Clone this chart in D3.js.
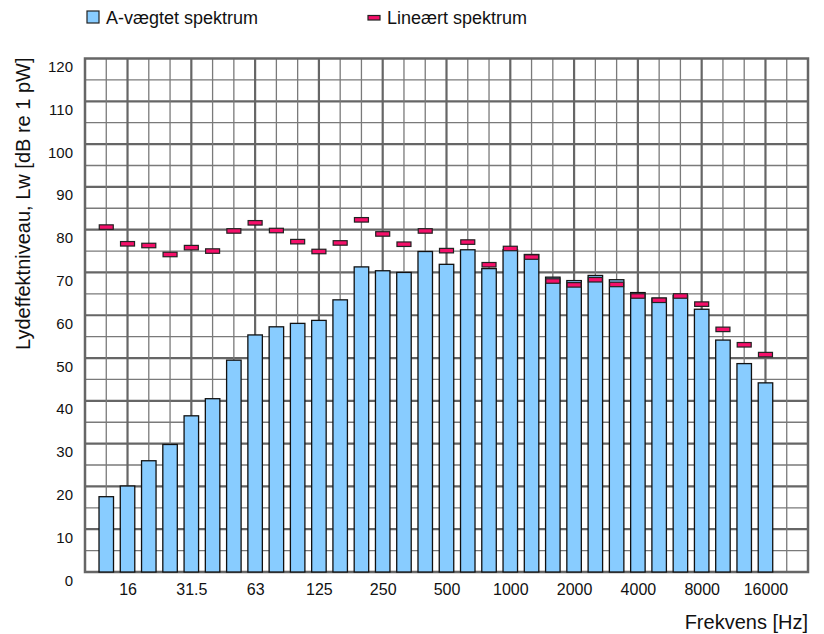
<!DOCTYPE html>
<html>
<head>
<meta charset="utf-8">
<script src="https://cdn.jsdelivr.net/npm/d3@7"></script>
<style>
  body { margin: 0; background: #fff; }
  svg { font-family: "Liberation Sans", Arial, sans-serif; }
</style>
</head>
<body>
<script>
// 1/3-octave band centre frequencies
var freqs = ["12.5","16","20","25","31.5","40","50","63","80","100","125","160","200","250","315","400",
             "500","630","800","1000","1250","1600","2000","2500","3150","4000","5000","6300","8000","10000","12500","16000"];

// A-weighted spectrum (bars), dB
var aWeighted = [17.6, 20.1, 26.0, 29.8, 36.5, 40.5, 49.5, 55.4, 57.3, 58.1, 58.8, 63.6, 71.3, 70.4, 70.0, 74.9,
                 71.9, 75.3, 70.9, 75.3, 74.2, 68.9, 68.1, 69.3, 68.3, 65.3, 64.0, 64.6, 61.4, 54.2, 48.7, 44.2];

// linear spectrum (markers), dB
var linear = [80.6, 76.7, 76.3, 74.2, 75.8, 75.0, 79.7, 81.6, 79.8, 77.2, 74.9, 76.9, 82.3, 79.0, 76.6, 79.7,
              75.1, 77.1, 71.8, 75.6, 73.6, 68.0, 67.1, 68.3, 67.2, 64.5, 63.5, 64.5, 62.6, 56.7, 53.1, 50.8];

var yTicks = [0,10,20,30,40,50,60,70,80,90,100,110,120];
var xLabels = ["16","31.5","63","125","250","500","1000","2000","4000","8000","16000"];

var W = 824, H = 634;
var plotL = 85, plotR = 808, plotT = 58.5, plotB = 572; // note: "top" is taken by window.top

var svg = d3.select("body").append("svg")
	.attr("width", W)
	.attr("height", H);

var x = d3.scaleLinear().domain([0, freqs.length + 2]).range([plotL, plotR]);
var y = d3.scaleLinear().domain([0, 120]).range([plotB, plotT]);

// grid - horizontal, every 5 dB (every 10 is heavier)
var hLines = d3.range(5, 120, 5);
svg.append("g").selectAll("line").data(hLines).enter().append("line")
	.attr("x1", plotL).attr("x2", plotR)
	.attr("y1", function(d){ return y(d); })
	.attr("y2", function(d){ return y(d); })
	.attr("stroke", function(d){ return d % 10 == 0 ? "#666" : "#7a7a7a"; })
	.attr("stroke-width", function(d){ return d % 10 == 0 ? 2.2 : 1.3; });

// grid - vertical, one per band slot, heavier under the labelled bands
var vLines = d3.range(1, freqs.length + 2);
svg.append("g").selectAll("line").data(vLines).enter().append("line")
	.attr("y1", plotT).attr("y2", plotB)
	.attr("x1", function(d){ return x(d); })
	.attr("x2", function(d){ return x(d); })
	.attr("stroke", function(d){ return xLabels.indexOf(freqs[d-1]) >= 0 ? "#666" : "#7a7a7a"; })
	.attr("stroke-width", function(d){ return xLabels.indexOf(freqs[d-1]) >= 0 ? 2.2 : 1.3; });

// plot frame
svg.append("rect")
	.attr("x", plotL).attr("y", plotT)
	.attr("width", plotR - plotL).attr("height", plotB - plotT)
	.attr("fill", "none").attr("stroke", "#666").attr("stroke-width", 2.5);

var barW = 14.5;

svg.append("g").selectAll("rect").data(aWeighted).enter().append("rect")
	.attr("x", function(d, i){ return x(i + 1) - barW / 2; })
	.attr("y", function(d){ return y(d); })
	.attr("width", barW)
	.attr("height", function(d){ return y(0) - y(d); })
	.attr("fill", "#88ccff")
	.attr("stroke", "#111")
	.attr("stroke-width", 1.3);

var mW = 14, mH = 4.5;
svg.append("g").selectAll("rect").data(linear).enter().append("rect")
	.attr("x", function(d, i){ return x(i + 1) - mW / 2; })
	.attr("y", function(d){ return y(d) - mH / 2; })
	.attr("width", mW)
	.attr("height", mH)
	.attr("fill", "#f5106a")
	.attr("stroke", "#222")
	.attr("stroke-width", 1.2);

// y axis labels (sit a little below their grid line, like the original)
var yAxis = svg.append("g")
	.attr("transform", "translate(" + (plotL - 12) + ",0)")
	.call(d3.axisLeft(y).tickValues(yTicks).tickSize(0).tickPadding(0));
yAxis.select(".domain").remove();
yAxis.selectAll("text")
	.attr("dy", "1.0em")
	.attr("y", -2)
	.attr("font-size", 15)
	.attr("font-family", "Liberation Sans, Arial, sans-serif")
	.attr("fill", "#111");

// x axis labels
var xAxis = svg.append("g")
	.attr("transform", "translate(0," + plotB + ")")
	.call(d3.axisBottom(x)
		.tickValues(xLabels.map(function(l){ return freqs.indexOf(l) + 1; }))
		.tickFormat(function(d){ return freqs[d - 1]; })
		.tickSize(0).tickPadding(12));
xAxis.select(".domain").remove();
xAxis.selectAll("text")
	.attr("font-size", 16)
	.attr("font-family", "Liberation Sans, Arial, sans-serif")
	.attr("fill", "#111");

// axis titles
svg.append("text")
	.attr("x", plotR).attr("y", 629)
	.attr("text-anchor", "end")
	.attr("font-size", 20)
	.attr("fill", "#111")
	.text("Frekvens [Hz]");

svg.append("text")
	.attr("transform", "translate(30," + (plotT - 1) + ") rotate(-90)")
	.attr("text-anchor", "end")
	.attr("font-size", 20)
	.attr("fill", "#111")
	.text("Lydeffektniveau, Lw [dB re 1 pW]");

// legend
var legend = svg.append("g");
legend.append("rect")
	.attr("x", 87).attr("y", 11).attr("width", 12).attr("height", 12)
	.attr("fill", "#88ccff").attr("stroke", "#222").attr("stroke-width", 1.2);
legend.append("text")
	.attr("x", 106).attr("y", 24)
	.attr("font-size", 18).attr("fill", "#111")
	.text("A-vægtet spektrum");
legend.append("rect")
	.attr("x", 368).attr("y", 15.5).attr("width", 12).attr("height", 4.5)
	.attr("fill", "#f5106a").attr("stroke", "#222").attr("stroke-width", 1.2);
legend.append("text")
	.attr("x", 387).attr("y", 24)
	.attr("font-size", 18).attr("fill", "#111")
	.text("Lineært spektrum");
</script>
</body>
</html>
